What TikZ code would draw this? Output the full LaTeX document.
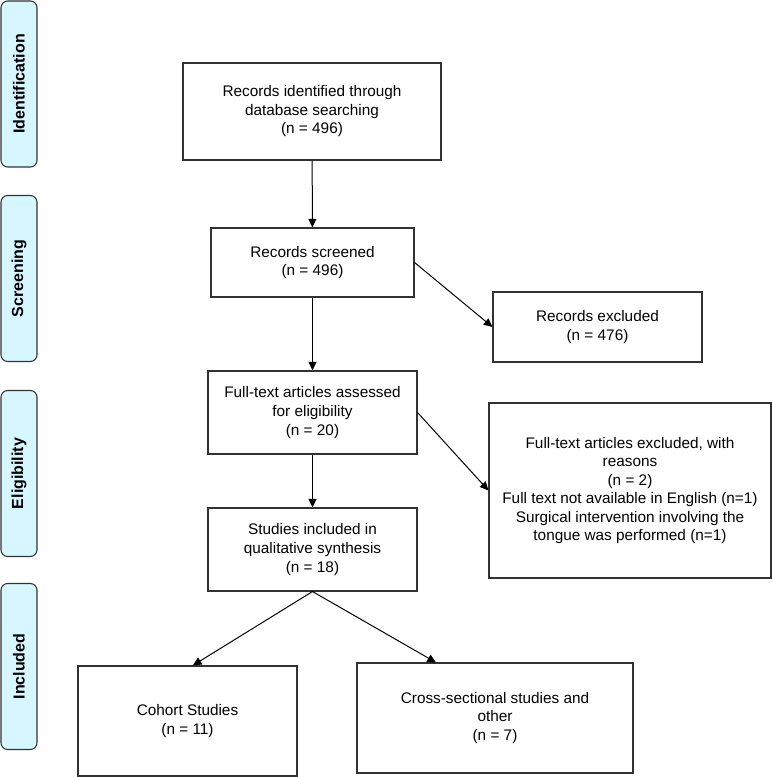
\documentclass[tikz,border=0pt]{standalone}
\usepackage{fontspec}
\setmainfont{Liberation Sans}
\usetikzlibrary{arrows.meta}

\definecolor{tabcyan}{RGB}{214,247,255}
\definecolor{edgegray}{RGB}{50,50,50}

\tikzset{
  stagebox/.style={draw=edgegray, line width=0.8pt, align=center, inner sep=2pt,
    font=\fontsize{11.5}{13.9}\selectfont},
  phasetab/.style={draw=edgegray, line width=0.8pt, fill=tabcyan, rounded corners=5pt,
    minimum width=124.5pt, minimum height=27pt, rotate=90,
    font=\fontsize{12}{14}\selectfont\bfseries},
  flowarrow/.style={line width=0.75pt, -{Triangle[length=6.5pt,width=6pt]}}
}

\begin{document}
\begin{tikzpicture}[x=0.75pt,y=-0.75pt]
    \useasboundingbox (0,0) rectangle (772,777);

    % Phase tabs on the left
    \node[phasetab] (tabid) at (19,84) {Identification};
    \node[phasetab] (tabscr) at (19,278.5) {Screening};
    \node[phasetab] (tabel) at (19,473.5) {Eligibility};
    \node[phasetab] (tabinc) at (19,666.5) {Included};

    % Main column
    \node[stagebox, minimum width=193.5pt, minimum height=72.75pt] (ident) at (312,111.5)
      {Records identified through\\database searching\\(n = 496)};
    \node[stagebox, minimum width=152.25pt, minimum height=51.75pt] (screen) at (312.5,262.5)
      {Records screened\\(n = 496)};
    \node[stagebox, minimum width=156.75pt, minimum height=62.25pt] (fulltext) at (312.5,412.5)
      {Full-text articles assessed\\for eligibility\\(n = 20)};
    \node[stagebox, minimum width=156.75pt, minimum height=62.25pt] (qual) at (312.5,549.5)
      {Studies included in\\qualitative synthesis\\(n = 18)};

    % Exclusions on the right
    \node[stagebox, minimum width=156.75pt, minimum height=52.5pt] (recexcl) at (597.5,327)
      {Records excluded\\(n = 476)};
    \node[stagebox, minimum width=211.5pt, minimum height=131.25pt] (ftexcl) at (630,490.5)
      {Full-text articles excluded, with\\reasons\\(n = 2)\\Full text not available in English (n=1)\\Surgical intervention involving the\\tongue was performed (n=1)};

    % Study designs
    \node[stagebox, minimum width=164.25pt, minimum height=82.5pt] (cohort) at (187.5,721)
      {Cohort Studies\\(n = 11)};
    \node[stagebox, minimum width=207pt, minimum height=82.5pt] (cross) at (495,718)
      {Cross-sectional studies and\\other\\(n = 7)};

    % Arrows
    \draw[flowarrow] (ident) -- (screen);
    \draw[flowarrow] (screen) -- (fulltext);
    \draw[flowarrow] (fulltext) -- (qual);
    \draw[flowarrow] (screen.east) -- (recexcl.west);
    \draw[flowarrow] (fulltext.east) -- (ftexcl.west);
    \draw[flowarrow] (qual.south) -- ([xshift=4pt]cohort.north);
    \draw[flowarrow] (qual.south) -- ([xshift=-44.25pt]cross.north);
\end{tikzpicture}
\end{document}
